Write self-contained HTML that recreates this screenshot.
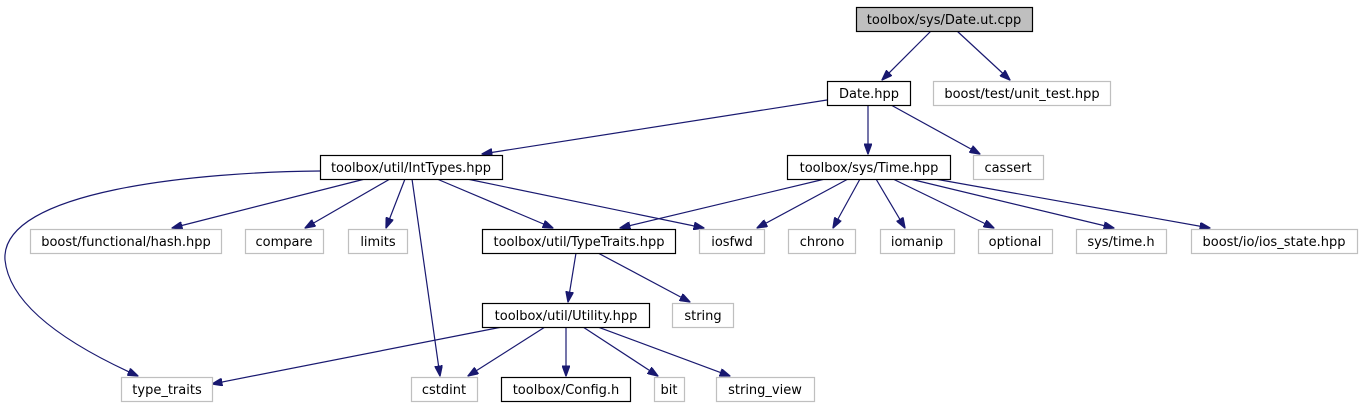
<!DOCTYPE html>
<html><head><meta charset="utf-8"><style>
html,body{margin:0;padding:0;background:#fff;}
svg{display:block;}
text{font-family:"DejaVu Sans","Liberation Sans",sans-serif;font-size:13px;fill:#000;}
</style></head><body>
<svg width="1362" height="411" viewBox="0 0 1362 411" xmlns="http://www.w3.org/2000/svg">
<defs>
<marker id="a" markerWidth="11" markerHeight="8" refX="10.5" refY="4" orient="auto" markerUnits="userSpaceOnUse">
<path d="M0,0 L11,4 L0,8 Z" fill="#191970" stroke="#191970" stroke-width="1"/>
</marker>
</defs>
<g stroke="#191970" stroke-width="1.2" fill="none" marker-end="url(#a)">
<line x1="931" y1="31" x2="882" y2="80"/>
<line x1="957" y1="31" x2="1010" y2="80"/>
<line x1="827" y1="100" x2="482" y2="154"/>
<line x1="868" y1="105" x2="868" y2="154"/>
<line x1="891" y1="105" x2="980" y2="154"/>
<path d="M320,171 C200,172 0,190 5,260 C10,310 80,350 138,376"/>
<line x1="365" y1="179" x2="172" y2="228"/>
<line x1="390" y1="179" x2="305" y2="228"/>
<line x1="405" y1="179" x2="386" y2="228"/>
<line x1="412" y1="179" x2="440" y2="376"/>
<line x1="437" y1="179" x2="553" y2="228"/>
<line x1="467" y1="179" x2="704" y2="228"/>
<line x1="825" y1="179" x2="620" y2="228"/>
<line x1="848" y1="179" x2="757" y2="228"/>
<line x1="860" y1="179" x2="833" y2="228"/>
<line x1="876" y1="179" x2="905" y2="228"/>
<line x1="893" y1="179" x2="994" y2="228"/>
<line x1="910" y1="179" x2="1114" y2="228"/>
<line x1="935" y1="179" x2="1210" y2="228"/>
<line x1="576" y1="253" x2="568" y2="302"/>
<line x1="598" y1="253" x2="690" y2="302"/>
<line x1="502" y1="327" x2="212" y2="384"/>
<line x1="545" y1="327" x2="468" y2="376"/>
<line x1="566" y1="327" x2="566" y2="376"/>
<line x1="583" y1="327" x2="658" y2="376"/>
<line x1="598" y1="327" x2="730" y2="376"/>
</g>
<g stroke-width="1.2">
<rect x="856.5" y="7.5" width="176" height="24" fill="#bfbfbf" stroke="#000"/>
<rect x="827.5" y="81.5" width="83" height="24" fill="#fff" stroke="#000"/>
<rect x="933.5" y="81.5" width="177" height="24" fill="#fff" stroke="#bfbfbf"/>
<rect x="320.5" y="155.5" width="182" height="24" fill="#fff" stroke="#000"/>
<rect x="787.5" y="155.5" width="163" height="24" fill="#fff" stroke="#000"/>
<rect x="973.5" y="155.5" width="70" height="24" fill="#fff" stroke="#bfbfbf"/>
<rect x="30.5" y="229.5" width="191" height="24" fill="#fff" stroke="#bfbfbf"/>
<rect x="245.5" y="229.5" width="78" height="24" fill="#fff" stroke="#bfbfbf"/>
<rect x="348.5" y="229.5" width="59" height="24" fill="#fff" stroke="#bfbfbf"/>
<rect x="482.5" y="229.5" width="193" height="24" fill="#fff" stroke="#000"/>
<rect x="699.5" y="229.5" width="65" height="24" fill="#fff" stroke="#bfbfbf"/>
<rect x="788.5" y="229.5" width="67" height="24" fill="#fff" stroke="#bfbfbf"/>
<rect x="880.5" y="229.5" width="74" height="24" fill="#fff" stroke="#bfbfbf"/>
<rect x="978.5" y="229.5" width="74" height="24" fill="#fff" stroke="#bfbfbf"/>
<rect x="1076.5" y="229.5" width="90" height="24" fill="#fff" stroke="#bfbfbf"/>
<rect x="1191.5" y="229.5" width="166" height="24" fill="#fff" stroke="#bfbfbf"/>
<rect x="482.5" y="303.5" width="167" height="24" fill="#fff" stroke="#000"/>
<rect x="672.5" y="303.5" width="61" height="24" fill="#fff" stroke="#bfbfbf"/>
<rect x="121.5" y="377.5" width="91" height="24" fill="#fff" stroke="#bfbfbf"/>
<rect x="411.5" y="377.5" width="66" height="24" fill="#fff" stroke="#bfbfbf"/>
<rect x="501.5" y="377.5" width="129" height="24" fill="#fff" stroke="#000"/>
<rect x="654.5" y="377.5" width="30" height="24" fill="#fff" stroke="#bfbfbf"/>
<rect x="716.5" y="377.5" width="98" height="24" fill="#fff" stroke="#bfbfbf"/>
</g>
<g text-anchor="middle">
<text x="944" y="24">toolbox/sys/Date.ut.cpp</text>
<text x="869" y="98">Date.hpp</text>
<text x="1022" y="98">boost/test/unit_test.hpp</text>
<text x="411" y="172">toolbox/util/IntTypes.hpp</text>
<text x="869" y="172">toolbox/sys/Time.hpp</text>
<text x="1008" y="172">cassert</text>
<text x="126" y="246">boost/functional/hash.hpp</text>
<text x="284" y="246">compare</text>
<text x="378" y="246">limits</text>
<text x="579" y="246">toolbox/util/TypeTraits.hpp</text>
<text x="732" y="246">iosfwd</text>
<text x="822" y="246">chrono</text>
<text x="917" y="246">iomanip</text>
<text x="1015" y="246">optional</text>
<text x="1121" y="246">sys/time.h</text>
<text x="1274" y="246">boost/io/ios_state.hpp</text>
<text x="566" y="320">toolbox/util/Utility.hpp</text>
<text x="703" y="320">string</text>
<text x="167" y="394">type_traits</text>
<text x="444" y="394">cstdint</text>
<text x="566" y="394">toolbox/Config.h</text>
<text x="669" y="394">bit</text>
<text x="765" y="394">string_view</text>
</g>
</svg>
</body></html>
